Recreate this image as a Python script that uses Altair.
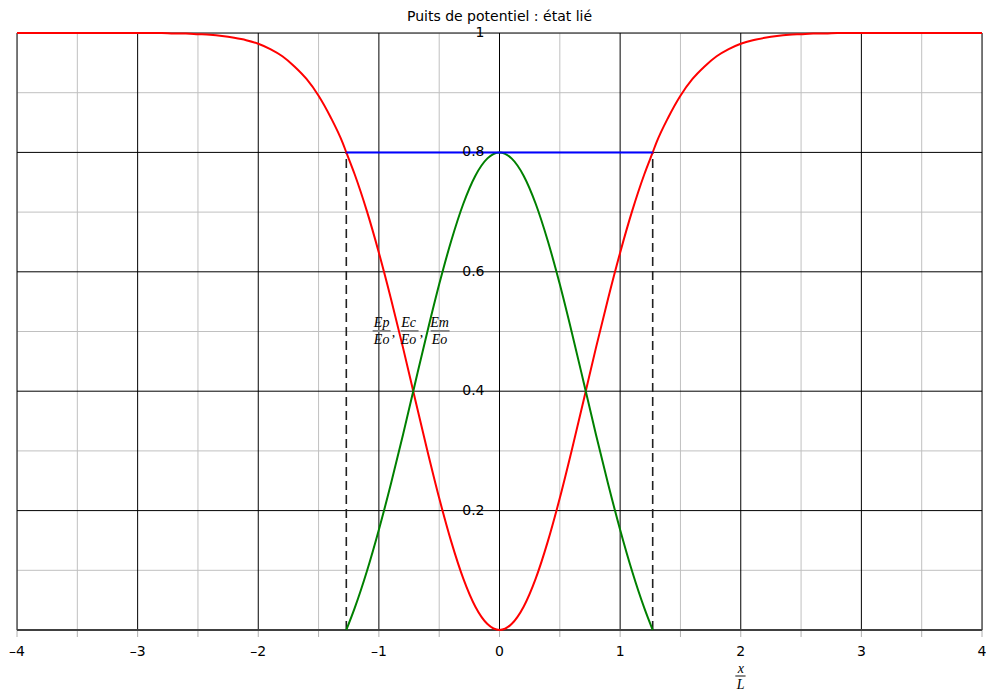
import altair as alt
import pandas as pd

title_text = "Puits de potentiel : état lié"

# Ep/Eo (x >= 0; the picture is symmetric)
x_half = [0.0, 0.1, 0.2, 0.3, 0.4, 0.5, 0.6, 0.7, 0.8, 0.9, 1.0, 1.1, 1.2, 1.27,
          1.3, 1.4, 1.5, 1.6, 1.7, 1.8, 1.9, 2.0, 2.1, 2.2, 2.3, 2.4, 2.5, 2.6,
          2.7, 2.8, 2.9, 3.0, 3.1, 3.2, 3.3, 3.4, 3.5, 3.6, 3.7, 3.8, 3.9, 4.0]
ep_half = [0.000, 0.010, 0.039, 0.086, 0.148, 0.221, 0.302, 0.387, 0.473, 0.555, 0.632, 0.702, 0.763, 0.800,
           0.816, 0.859, 0.895, 0.923, 0.944, 0.961, 0.973, 0.982, 0.988, 0.992, 0.995, 0.997, 0.998, 0.999,
           0.999, 1.000, 1.000, 1.000, 1.000, 1.000, 1.000, 1.000, 1.000, 1.000, 1.000, 1.000, 1.000, 1.000]

# Ec/Eo (x >= 0)
ec_x_half = [0.0, 0.1, 0.2, 0.3, 0.4, 0.5, 0.6, 0.7, 0.8, 0.9, 1.0, 1.1, 1.2, 1.27]
ec_half = [0.800, 0.790, 0.761, 0.714, 0.652, 0.579, 0.498, 0.413, 0.327, 0.245, 0.168, 0.098, 0.037, 0.000]

# Em/Eo (blue) and turning points (dashed)
em_x = [-1.27, 1.27]
em_y = [0.8, 0.8]

x_major = [-4, -3, -2, -1, 0, 1, 2, 3, 4]
x_minor = [-3.5, -2.5, -1.5, -0.5, 0.5, 1.5, 2.5, 3.5]
y_major = [0.2, 0.4, 0.6, 0.8, 1.0]
y_minor = [0.1, 0.3, 0.5, 0.7, 0.9]
x_labels = ["–4", "–3", "–2", "–1", "0", "1", "2", "3", "4"]
y_labels = ["0.2", "0.4", "0.6", "0.8", "1"]

# fraction annotation Ep/Eo, Ec/Eo, Em/Eo
frac_num = ["Ep", "Ec", "Em"]
frac_den = ["Eo", "Eo", "Eo"]


def mirror(xs, vs):
    px = [-x for x in xs[:0:-1]] + list(xs)
    pv = list(vs[:0:-1]) + list(vs)
    return pd.DataFrame({"x": px, "v": pv})


ep_df = mirror(x_half, ep_half)
ec_df = mirror(ec_x_half, ec_half)
em_df = pd.DataFrame({"x": em_x, "v": em_y})
turn_df = pd.DataFrame({"x": em_x, "v": em_y, "z": [0.0, 0.0]})

XS = alt.Scale(domain=[-4, 4], nice=False, zero=False)
YS = alt.Scale(domain=[0, 1], nice=False, zero=False)
FONT = "DejaVu Sans"
SERIF = "Liberation Serif"


def X(f="x"):
    return alt.X(f"{f}:Q", scale=XS, axis=None)


def Y(f="v"):
    return alt.Y(f"{f}:Q", scale=YS, axis=None)


grid_x_minor = alt.Chart(pd.DataFrame({"x": x_minor})).mark_rule(color="#c0c0c0", strokeWidth=1).encode(x=X())
grid_y_minor = alt.Chart(pd.DataFrame({"v": y_minor})).mark_rule(color="#c0c0c0", strokeWidth=1).encode(y=Y())
grid_x_major = alt.Chart(pd.DataFrame({"x": x_major})).mark_rule(color="black", strokeWidth=1).encode(x=X())
grid_y_major = alt.Chart(pd.DataFrame({"v": y_major})).mark_rule(color="black", strokeWidth=1).encode(y=Y())

ticks = alt.Chart(pd.DataFrame({"x": x_major + x_minor})).mark_rule(color="#b0b0b0", strokeWidth=1).encode(
    x=X(), y=alt.value(597), y2=alt.value(604))

axis_line = alt.Chart(pd.DataFrame({"v": [0.0]})).mark_rule(color="#404040", strokeWidth=2).encode(y=Y())

red = alt.Chart(ep_df).mark_line(color="#ff0000", strokeWidth=2, interpolate="monotone").encode(x=X(), y=Y())
green = alt.Chart(ec_df).mark_line(color="#008000", strokeWidth=2, interpolate="monotone").encode(x=X(), y=Y())
blue = alt.Chart(em_df).mark_line(color="#0000ff", strokeWidth=2).encode(x=X(), y=Y())
dashed = alt.Chart(turn_df).mark_rule(color="#202020", strokeWidth=1.6, strokeDash=[9, 5]).encode(
    x=X(), y=Y("z"), y2="v:Q")

x_lab = alt.Chart(pd.DataFrame({"x": x_major, "t": x_labels})).mark_text(
    font=FONT, fontSize=14, color="black", align="center", baseline="middle").encode(
    x=X(), y=alt.value(619), text="t:N")
y_lab = alt.Chart(pd.DataFrame({"x": [0.0] * 5, "v": y_major, "t": y_labels})).mark_text(
    font=FONT, fontSize=14, color="black", align="right", baseline="middle", dx=-15).encode(
    x=X(), y=Y(), text="t:N")

title = alt.Chart(pd.DataFrame({"x": [0.0], "t": [title_text]})).mark_text(
    font=FONT, fontSize=14, color="black", align="center", baseline="middle").encode(
    x=X(), y=alt.value(-16), text="t:N")

# annotation text placement
ann_df = pd.DataFrame({
    "x": [-0.977, -0.754, -0.497, -0.977, -0.754, -0.497, -0.878, -0.646],
    "v": [0.5135, 0.5135, 0.5135, 0.486, 0.486, 0.486, 0.497, 0.497],
    "t": frac_num + frac_den + [",", ","],
})
ann = alt.Chart(ann_df).mark_text(font=SERIF, fontSize=14, fontStyle="italic", color="black",
                                  align="center", baseline="middle").encode(x=X(), y=Y(), text="t:N")
bar_df = pd.DataFrame({"x": [-1.052, -0.820, -0.571], "x2": [-0.903, -0.671, -0.414], "v": [0.5008] * 3})
ann_bars = alt.Chart(bar_df).mark_rule(color="#888888", strokeWidth=2).encode(x=X(), x2="x2:Q", y=Y())

# x/L axis title
xl_df = pd.DataFrame({"x": [2.0, 2.0], "py": [636, 652], "t": ["x", "L"]})
xl = alt.Chart(xl_df).mark_text(font=SERIF, fontSize=14, fontStyle="italic", color="black",
                                align="center", baseline="middle").encode(
    x=X(), y=alt.Y("py:Q", scale=None, axis=None), text="t:N")
xl_bar = alt.Chart(pd.DataFrame({"x": [1.955], "x2": [2.04]})).mark_rule(color="#888888", strokeWidth=2).encode(
    x=X(), x2="x2:Q", y=alt.value(643))

chart = alt.layer(grid_x_minor, grid_y_minor, grid_x_major, grid_y_major, ticks, axis_line,
                  dashed, red, green, blue, x_lab, y_lab, title, ann, ann_bars, xl, xl_bar).properties(
    width=965, height=597,
    autosize=alt.AutoSizeParams(type="none"),
    padding={"left": 9, "top": 25, "right": 4, "bottom": 66},
).configure_view(stroke=None).configure(background="white")

chart.save("out.html", embed_options={"renderer": "svg", "actions": False})
